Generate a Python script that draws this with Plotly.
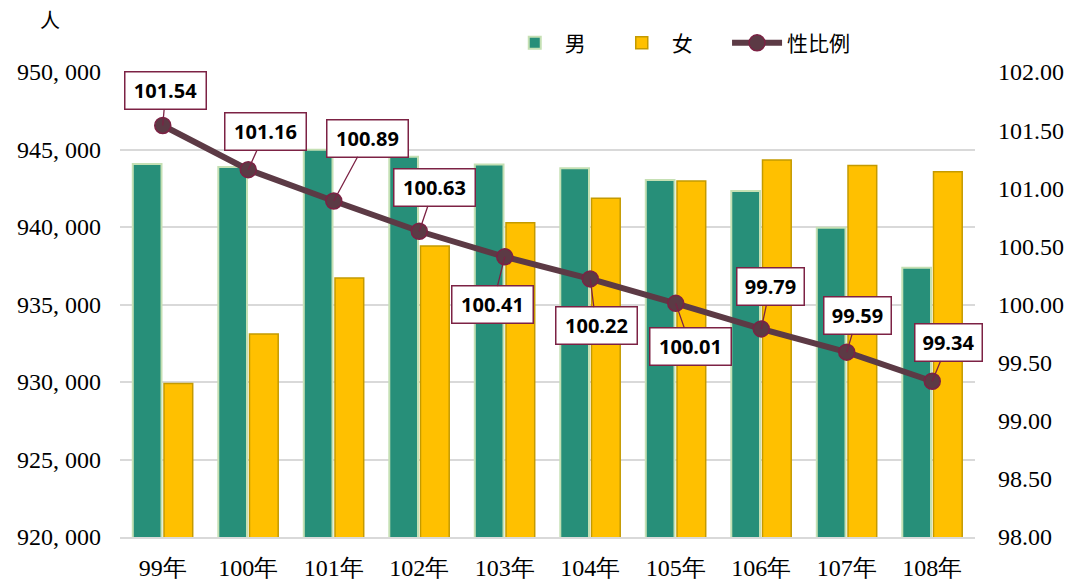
import plotly.graph_objects as go

years = ["99年", "100年", "101年", "102年", "103年", "104年", "105年", "106年", "107年", "108年"]
male = [944060, 943870, 944980, 944540, 944040, 943790, 943030, 942320, 939950, 937370]
female = [929900, 933100, 936710, 938770, 940280, 941850, 942970, 944320, 943960, 943570]
sex_ratio = [101.54, 101.16, 100.89, 100.63, 100.41, 100.22, 100.01, 99.79, 99.59, 99.34]

left_ticks = [920000, 925000, 930000, 935000, 940000, 945000, 950000]
right_ticks = [98.0, 98.5, 99.0, 99.5, 100.0, 100.5, 101.0, 101.5, 102.0]

# callout label offsets (pixels) relative to each point
label_dx = [3, 17, 34, 15, -12, 6, 15, 9, 11, 16]
label_dy = [-35, -38, -63, -44, 48, 47, 43, -42, -37, -39]

GREEN = "#278F79"
GREEN_EDGE = "#C5E0B4"
YELLOW = "#FFC000"
YELLOW_EDGE = "#C49A00"
LINE = "#5C3A45"
MAROON = "#7C2244"
CJK = "Noto Sans CJK TC"
SERIF = "Liberation Serif"

fig = go.Figure()
fig.add_trace(go.Bar(
    x=years, y=male, name="男", legend="legend",
    marker=dict(color=GREEN, line=dict(color=GREEN_EDGE, width=2)),
))
fig.add_trace(go.Bar(
    x=years, y=female, name="女", legend="legend",
    marker=dict(color=YELLOW, line=dict(color=YELLOW_EDGE, width=1.5)),
))
fig.add_trace(go.Scatter(
    x=years, y=sex_ratio, name="性比例", yaxis="y2", legend="legend2",
    mode="lines+markers",
    line=dict(color=LINE, width=6),
    marker=dict(size=16, color=LINE, line=dict(color=MAROON, width=1.5)),
))

annotations = []
for yr, v, dx, dy in zip(years, sex_ratio, label_dx, label_dy):
    txt = f"{v:.2f}"
    annotations.append(dict(
        x=yr, y=v, xref="x", yref="y2",
        text=f"<b>{txt}</b>",
        showarrow=True, arrowhead=0, arrowwidth=1.3, arrowcolor=MAROON,
        ax=dx, ay=dy, axref="pixel", ayref="pixel", standoff=0,
        bgcolor="white", bordercolor=MAROON, borderwidth=1.5,
        width=74 if len(txt) == 6 else 60, height=30, borderpad=3,
        font=dict(family="Open Sans", size=20, color="black"),
    ))
annotations.append(dict(
    x=-0.082, y=1.112, xref="paper", yref="paper", text="人",
    xanchor="center", yanchor="middle",
    showarrow=False, font=dict(family=CJK, size=20, color="black"),
))

legend_style = dict(
    orientation="h", xanchor="left", y=1.062, yanchor="middle",
    font=dict(family=CJK, size=21), bgcolor="rgba(0,0,0,0)",
    traceorder="normal", itemwidth=50,
)

fig.update_layout(
    width=1080, height=581,
    margin=dict(l=120, r=105, t=72, b=44, autoexpand=False),
    paper_bgcolor="white", plot_bgcolor="white",
    barmode="group", bargap=0.27, bargroupgap=0.08,
    font=dict(family=SERIF, size=24, color="black"),
    xaxis=dict(
        type="category", range=[-0.5, 9.5], showgrid=False, showline=True,
        linecolor="#D9D9D9", linewidth=1.5, ticks="", automargin=False,
        ticklabelstandoff=8, tickfont=dict(family=SERIF, size=24),
    ),
    yaxis=dict(
        range=[920000, 950000], tickvals=left_ticks,
        ticktext=[f"{v:,}".replace(",", ", ") for v in left_ticks],
        showgrid=True, gridcolor="#D9D9D9", gridwidth=1.5, zeroline=False,
        showline=False, ticks="", automargin=False, ticklabelstandoff=18,
        tickfont=dict(family=SERIF, size=24),
    ),
    yaxis2=dict(
        range=[98, 102], tickvals=right_ticks,
        ticktext=[f"{v:.2f}" for v in right_ticks],
        overlaying="y", side="right", showgrid=False, zeroline=False,
        showline=False, ticks="", automargin=False, ticklabelstandoff=22,
        tickfont=dict(family=SERIF, size=24),
    ),
    legend=dict(x=0.45, entrywidth=42, **legend_style),
    legend2=dict(x=0.71, **legend_style),
    annotations=annotations,
)

fig.write_html(
    "out.html",
    config={"displayModeBar": False},
    post_script="document.body.style.margin='0';",
)
